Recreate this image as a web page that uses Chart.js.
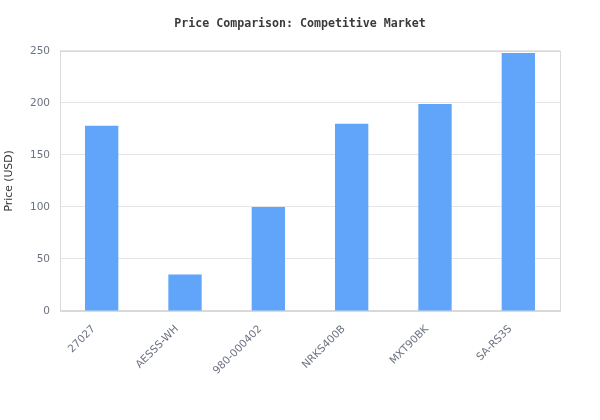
<!DOCTYPE html>
<html>
<head>
<meta charset="utf-8">
<script src="https://cdn.jsdelivr.net/npm/chart.js@4"></script>
<style>
html,body{margin:0;padding:0;background:#fff;}
#wrap{width:600px;height:420px;}
</style>
</head>
<body>
<div id="wrap"><canvas id="c"></canvas></div>
<script>
const categories = ["27027", "AESSS-WH", "980-000402", "NRKS400B", "MXT90BK", "SA-RS3S"];
const prices = [178, 35, 100, 180, 199, 248];
const yTicks = [0, 50, 100, 150, 200, 250];

const frame = {
  id: 'frame',
  afterLayout(chart) {
    if (chart.titleBlock) {
      chart.titleBlock.left = 0;
      chart.titleBlock.right = chart.width;
      chart.titleBlock.width = chart.width;
    }
  },
  afterDatasetsDraw(chart) {
    const a = chart.chartArea, ctx = chart.ctx;
    ctx.save();
    ctx.strokeStyle = '#d9d9d9';
    ctx.lineWidth = 1;
    ctx.strokeRect(Math.round(a.left) + 0.5, Math.round(a.top) + 0.5, Math.round(a.right - a.left), Math.round(a.bottom - a.top));
    ctx.restore();
  }
};

new Chart(document.getElementById('c'), {
  type: 'bar',
  data: {
    labels: categories,
    datasets: [{
      label: 'Price (USD)',
      data: prices,
      backgroundColor: '#60A5FA',
      borderWidth: 0,
      barPercentage: 0.5,
      categoryPercentage: 0.8
    }]
  },
  plugins: [frame],
  options: {
    responsive: true,
    maintainAspectRatio: false,
    animation: false,
    layout: { padding: { left: 0, right: 40, top: 0, bottom: 31 } },
    plugins: {
      legend: { display: false },
      tooltip: { enabled: false },
      title: {
        display: true,
        text: 'Price Comparison: Competitive Market',
        color: '#3a3a3a',
        font: { family: '"DejaVu Sans Mono", monospace', size: 11.6, weight: 'bold' },
        padding: { top: 17, bottom: 20 }
      }
    },
    scales: {
      x: {
        grid: { display: false, drawTicks: false },
        border: { color: '#d9d9d9' },
        ticks: {
          color: '#6b7280',
          font: { family: '"DejaVu Sans", sans-serif', size: 10.5 },
          maxRotation: 45,
          minRotation: 45,
          padding: 12,
          labelOffset: -8
        }
      },
      y: {
        min: 0,
        max: 250,
        afterBuildTicks: (axis) => { axis.ticks = yTicks.map(v => ({ value: v })); },
        grid: { color: '#e5e5e5', drawTicks: false },
        border: { color: '#d9d9d9' },
        title: {
          display: true,
          text: 'Price (USD)',
          color: '#333333',
          font: { family: '"DejaVu Sans", sans-serif', size: 10.8 },
          padding: { top: 3, bottom: 4 }
        },
        ticks: {
          color: '#6b7280',
          font: { family: '"DejaVu Sans", sans-serif', size: 10.5 },
          padding: 10
        }
      }
    }
  }
});
</script>
</body>
</html>
